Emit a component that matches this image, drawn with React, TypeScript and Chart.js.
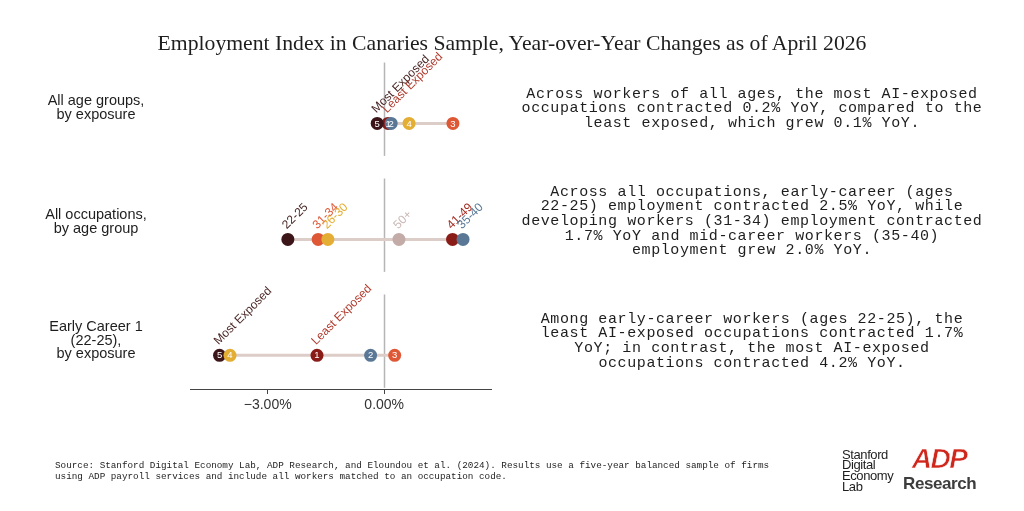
import React, { useEffect, useRef } from "react";
import { Chart, registerables } from "chart.js";

Chart.register(...registerables);

// ---------- DATA ----------
const TITLE = "Employment Index in Canaries Sample, Year-over-Year Changes as of April 2026";

const rowLabels: string[][] = [
  ["All age groups,", "by exposure"],
  ["All occupations,", "by age group"],
  ["Early Career 1", "(22-25),", "by exposure"],
];

const rowNotes: string[][] = [
  [
    "Across workers of all ages, the most AI-exposed",
    "occupations contracted 0.2% YoY, compared to the",
    "least exposed, which grew 0.1% YoY.",
  ],
  [
    "Across all occupations, early-career (ages",
    "22-25) employment contracted 2.5% YoY, while",
    "developing workers (31-34) employment contracted",
    "1.7% YoY and mid-career workers (35-40)",
    "employment grew 2.0% YoY.",
  ],
  [
    "Among early-career workers (ages 22-25), the",
    "least AI-exposed occupations contracted 1.7%",
    "YoY; in contrast, the most AI-exposed",
    "occupations contracted 4.2% YoY.",
  ],
];

// Exposure quintiles (1 = least exposed, 5 = most exposed)
const exposureQuintiles = ["1", "2", "3", "4", "5"];
const exposureColors = ["#8a1c17", "#5a7896", "#de5836", "#e4ae34", "#3b1517"];
const exposureAnnotations = ["Least Exposed", "", "", "", "Most Exposed"];
const exposureAnnotationColors = ["#b0392c", "", "", "", "#4a2626"];
const exposureDrawOrder = [0, 4, 1, 3, 2];

const allAgesByExposure = [0.1, 0.18, 1.77, 0.64, -0.18];
const earlyCareerByExposure = [-1.73, -0.35, 0.27, -3.97, -4.24];

// Age groups
const ageGroups = ["22-25", "26-30", "31-34", "35-40", "41-49", "50+"];
const ageColors = ["#3b1517", "#e4ae34", "#de5836", "#5a7896", "#8a1c17", "#c3aba8"];
const ageLabelColors = ["#4a2626", "#e4ae34", "#e05a3a", "#5a7896", "#a52a22", "#c9b7b4"];
const ageDrawOrder = [0, 2, 1, 5, 4, 3];
const allOccupationsByAge = [-2.48, -1.45, -1.7, 2.03, 1.76, 0.38];

const xTicks = [-3, 0];
const xMin = -5;
const xMax = 2.75;

const sourceLines = [
  "Source: Stanford Digital Economy Lab, ADP Research, and Eloundou et al. (2024). Results use a five-year balanced sample of firms",
  "using ADP payroll services and include all workers matched to an occupation code.",
];

// ---------- CHART ----------
type RowSpec = {
  values: number[];
  colors: string[];
  drawOrder: number[];
  digits: string[];
  annotations: string[];
  annotationColors: string[];
};

const rows: RowSpec[] = [
  {
    values: allAgesByExposure,
    colors: exposureColors,
    drawOrder: exposureDrawOrder,
    digits: exposureQuintiles,
    annotations: exposureAnnotations,
    annotationColors: exposureAnnotationColors,
  },
  {
    values: allOccupationsByAge,
    colors: ageColors,
    drawOrder: ageDrawOrder,
    digits: ageGroups.map(() => ""),
    annotations: ageGroups,
    annotationColors: ageLabelColors,
  },
  {
    values: earlyCareerByExposure,
    colors: exposureColors,
    drawOrder: exposureDrawOrder,
    digits: exposureQuintiles,
    annotations: exposureAnnotations,
    annotationColors: exposureAnnotationColors,
  },
];

const fmtPct = (v: number) => (v < 0 ? "\u2212" : "") + Math.abs(v).toFixed(2) + "%";

const zeroLinePlugin = {
  id: "zeroLines",
  beforeDatasetsDraw(chart: any) {
    const ctx = chart.ctx;
    const xs = chart.scales.x;
    const ys = chart.scales.y;
    const x = Math.round(xs.getPixelForValue(0)) + 0.5;
    ctx.save();
    ctx.strokeStyle = "#b5b5b5";
    ctx.lineWidth = 1.5;
    rows.forEach((_, r) => {
      ctx.beginPath();
      ctx.moveTo(x, ys.getPixelForValue(r - 0.525));
      ctx.lineTo(x, ys.getPixelForValue(r + 0.28));
      ctx.stroke();
    });
    ctx.restore();
  },
};

const labelPlugin = {
  id: "dotLabels",
  afterDatasetsDraw(chart: any) {
    const ctx = chart.ctx;
    ctx.save();
    chart.data.datasets.forEach((ds: any, di: number) => {
      if (!ds.rowSpec) return;
      const spec: RowSpec = ds.rowSpec;
      const meta = chart.getDatasetMeta(di);
      meta.data.forEach((el: any, j: number) => {
        const idx = spec.drawOrder[j];
        const digit = spec.digits[idx];
        if (digit) {
          ctx.fillStyle = "#ffffff";
          ctx.font = "9.5px 'Liberation Sans', Arial, sans-serif";
          ctx.textAlign = "center";
          ctx.textBaseline = "middle";
          ctx.fillText(digit, el.x, el.y + 0.5);
        }
      });
      meta.data.forEach((el: any, j: number) => {
        const idx = spec.drawOrder[j];
        const text = spec.annotations[idx];
        if (!text) return;
        ctx.save();
        ctx.translate(el.x - 1, el.y - 10);
        ctx.rotate(-Math.PI / 4);
        ctx.fillStyle = spec.annotationColors[idx];
        ctx.font = "12px 'Liberation Sans', Arial, sans-serif";
        ctx.textAlign = "left";
        ctx.textBaseline = "alphabetic";
        ctx.fillText(text, 0, 0);
        ctx.restore();
      });
    });
    ctx.restore();
  },
};

function DotChart() {
  const ref = useRef<HTMLCanvasElement | null>(null);
  useEffect(() => {
    if (!ref.current) return;
    const datasets: any[] = [];
    rows.forEach((spec, r) => {
      datasets.push({
        type: "scatter",
        data: spec.drawOrder.map((i) => ({ x: spec.values[i], y: r })),
        backgroundColor: spec.drawOrder.map((i) => spec.colors[i]),
        pointRadius: 6.5,
        pointHoverRadius: 6.5,
        borderWidth: 0,
        order: 0,
        rowSpec: spec,
      });
    });
    rows.forEach((spec, r) => {
      datasets.push({
        type: "scatter",
        showLine: true,
        data: [
          { x: Math.min(...spec.values), y: r },
          { x: Math.max(...spec.values), y: r },
        ],
        borderColor: "#dccdc9",
        borderWidth: 3,
        pointRadius: 0,
        order: 10,
      });
    });
    const chart = new Chart(ref.current, {
      type: "scatter",
      data: { datasets },
      plugins: [zeroLinePlugin, labelPlugin],
      options: {
        animation: false,
        responsive: false,
        maintainAspectRatio: false,
        events: [],
        layout: { padding: { left: 190, right: 533, top: 55, bottom: 92 } },
        plugins: { legend: { display: false }, tooltip: { enabled: false } },
        scales: {
          x: {
            type: "linear",
            min: xMin,
            max: xMax,
            afterBuildTicks: (scale: any) => {
              scale.ticks = xTicks.map((v) => ({ value: v }));
            },
            afterFit: (scale: any) => {
              scale.height = 30;
            },
            border: { display: true, color: "#444444", width: 1 },
            grid: { drawOnChartArea: false, drawTicks: true, tickLength: 5, color: "#444444" },
            ticks: {
              color: "#333333",
              padding: 3,
              maxRotation: 0,
              font: { family: "'Liberation Sans', Arial, sans-serif", size: 14 },
              callback: (v: any) => fmtPct(Number(v)),
            },
          },
          y: {
            type: "linear",
            display: false,
            min: -0.59,
            max: 2.29,
            reverse: true,
          },
        },
      } as any,
    });
    return () => chart.destroy();
  }, []);
  return (
    <canvas
      ref={ref}
      width={1024}
      height={511}
      style={{ position: "absolute", left: 0, top: 0, width: 1024, height: 511 }}
    />
  );
}

const rowLabelTops = [94, 208, 320];
const noteTops = [87.5, 185.5, 312.5];

export default function App() {
  return (
    <div
      style={{
        position: "absolute",
        left: 0,
        top: 0,
        width: 1024,
        height: 511,
        background: "#ffffff",
        overflow: "hidden",
      }}
    >
      <DotChart />
      <div
        style={{
          position: "absolute",
          left: 0,
          top: 30.5,
          width: 1024,
          textAlign: "center",
          fontFamily: "'Liberation Serif', 'Times New Roman', serif",
          fontSize: 21.7,
          lineHeight: "24px",
          color: "#1e1e1e",
        }}
      >
        {TITLE}
      </div>
      {rowLabels.map((lines, r) => (
        <div
          key={"rl" + r}
          style={{
            position: "absolute",
            left: 16,
            width: 160,
            top: rowLabelTops[r],
            textAlign: "center",
            fontFamily: "'Liberation Sans', Arial, sans-serif",
            fontSize: 14.5,
            lineHeight: "13.5px",
            color: "#1e1e1e",
          }}
        >
          {lines.map((l, i) => (
            <div key={i}>{l}</div>
          ))}
        </div>
      ))}
      {rowNotes.map((lines, r) => (
        <div
          key={"rn" + r}
          style={{
            position: "absolute",
            left: 502,
            width: 500,
            top: noteTops[r],
            textAlign: "center",
            fontFamily: "'Liberation Mono', 'DejaVu Sans Mono', monospace",
            fontSize: 15,
            letterSpacing: "0.6px",
            lineHeight: "14.7px",
            color: "#1e1e1e",
            whiteSpace: "pre",
          }}
        >
          {lines.map((l, i) => (
            <div key={i}>{l}</div>
          ))}
        </div>
      ))}
      <div
        style={{
          position: "absolute",
          left: 55,
          top: 461,
          fontFamily: "'Liberation Mono', 'DejaVu Sans Mono', monospace",
          fontSize: 9.3,
          lineHeight: "10.5px",
          color: "#1e1e1e",
          whiteSpace: "pre",
        }}
      >
        {sourceLines.map((l, i) => (
          <div key={i}>{l}</div>
        ))}
      </div>
      <div
        style={{
          position: "absolute",
          left: 842,
          top: 449.5,
          fontFamily: "'Liberation Sans', Arial, sans-serif",
          fontSize: 13,
          lineHeight: "10.9px",
          color: "#1e1e1e",
          letterSpacing: "-0.4px",
        }}
      >
        <div>Stanford</div>
        <div>Digital</div>
        <div>Economy</div>
        <div>Lab</div>
      </div>
      <div
        style={{
          position: "absolute",
          left: 906,
          top: 444,
          width: 66,
          textAlign: "center",
          fontFamily: "'Liberation Sans', Arial, sans-serif",
          fontWeight: 700,
          fontStyle: "italic",
          fontSize: 28,
          lineHeight: "30px",
          letterSpacing: "-1.5px",
          color: "#d0271d",
          WebkitTextStroke: "0.6px #ffffff",
        }}
      >
        ADP
      </div>
      <div
        style={{
          position: "absolute",
          left: 903,
          top: 474,
          width: 70,
          textAlign: "center",
          fontFamily: "'Liberation Sans Narrow', 'Liberation Sans', Arial, sans-serif",
          fontWeight: 700,
          fontSize: 17,
          lineHeight: "20px",
          letterSpacing: "-0.4px",
          color: "#3d3d3d",
        }}
      >
        Research
      </div>
    </div>
  );
}
